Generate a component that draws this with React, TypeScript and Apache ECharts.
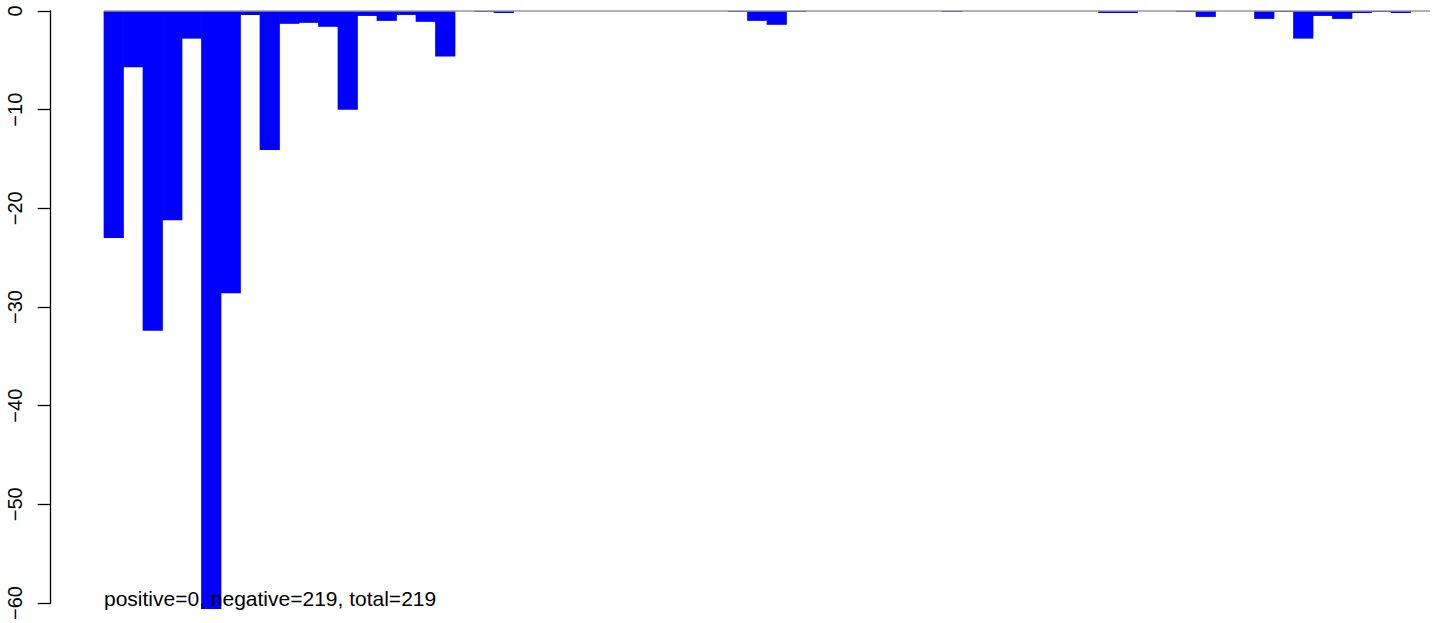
import React, { useEffect, useRef } from "react";
import * as echarts from "echarts";

const categories: string[] = [
  "1", "2", "3", "4", "5", "6", "7", "8", "9", "10",
  "11", "12", "13", "14", "15", "16", "17", "18", "19", "20",
  "21", "22", "23", "24", "25", "26", "27", "28", "29", "30",
  "31", "32", "33", "34", "35", "36", "37", "38", "39", "40",
  "41", "42", "43", "44", "45", "46", "47", "48", "49", "50",
  "51", "52", "53", "54", "55", "56", "57", "58", "59", "60",
  "61", "62", "63", "64", "65", "66", "67", "68",
];

const values: number[] = [
  -23.0, -5.7, -32.4, -21.2, -2.8, -60.6, -28.6, -0.4, -14.1, -1.3,
  -1.2, -1.6, -10.0, -0.5, -1.0, -0.4, -1.1, -4.6, 0, -0.1,
  -0.2, 0, 0, 0, 0, 0, 0, 0, 0, 0,
  0, 0, -0.1, -1.0, -1.4, -0.1, 0, 0, 0, 0,
  0, 0, 0, -0.1, 0, 0, 0, 0, 0, 0,
  0, -0.2, -0.2, 0, 0, -0.1, -0.6, 0, 0, -0.8,
  -0.1, -2.8, -0.5, -0.8, -0.2, -0.1, -0.2, 0,
];

const yMin = -60;
const yMax = 0;
const yStep = 10;
const noteText = "positive=0, negative=219, total=219";

const FONT = "'Liberation Sans', Arial, Helvetica, sans-serif";

export default function App() {
  const ref = useRef<HTMLDivElement>(null);

  useEffect(() => {
    if (!ref.current) return;
    const chart = echarts.init(ref.current, null, { renderer: "svg" });
    chart.setOption({
      animation: false,
      backgroundColor: "#ffffff",
      grid: { left: 104, top: 11, width: 1326, height: 592, containLabel: false },
      xAxis: {
        type: "category",
        data: categories,
        boundaryGap: true,
        axisLine: { show: false },
        axisTick: { show: false },
        axisLabel: { show: false },
        splitLine: { show: false },
      },
      yAxis: {
        type: "value",
        min: yMin,
        max: yMax,
        interval: yStep,
        offset: 53.3,
        axisLine: { show: true, lineStyle: { color: "#000000", width: 1.3 } },
        axisTick: { show: true, length: 13, lineStyle: { color: "#000000", width: 1.3 } },
        axisLabel: {
          rotate: 90,
          margin: 26,
          fontSize: 20,
          color: "#000000",
          fontFamily: FONT,
          formatter: (v: number) => String(v).replace("-", "\u2212"),
        },
        splitLine: { show: false },
      },
      series: [
        {
          type: "bar",
          data: values,
          barWidth: 20.2,
          clip: false,
          itemStyle: { color: "#0000FF" },
          markLine: {
            silent: true,
            symbol: ["none", "none"],
            label: { show: false },
            lineStyle: { color: "#999999", width: 1.5, type: "solid" },
            data: [{ yAxis: 0 }],
          },
        },
      ],
      graphic: [
        {
          type: "text",
          left: 104,
          top: 588,
          z: 100,
          style: {
            text: noteText,
            font: `21px ${FONT}`,
            fill: "#000000",
          },
        },
      ],
    });
    return () => chart.dispose();
  }, []);

  return (
    <div
      ref={ref}
      style={{ position: "fixed", left: 0, top: 0, width: 1444, height: 623 }}
    />
  );
}
